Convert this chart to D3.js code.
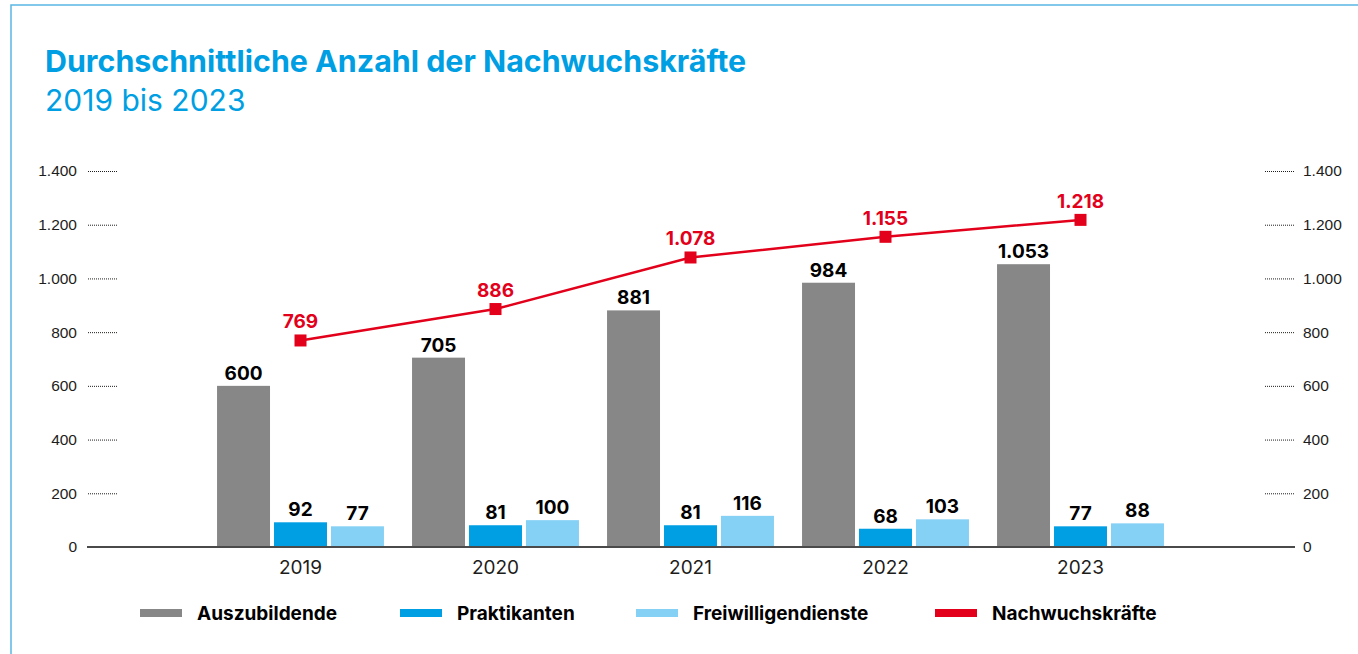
<!DOCTYPE html>
<html>
<head>
<meta charset="utf-8">
<script src="https://cdn.jsdelivr.net/npm/d3@7"></script>
<style>
  body { margin: 0; background: #fff; }
  svg { font-family: "Inter", "Liberation Sans", sans-serif; }
  .axis text { font-size: 15.5px; fill: #1d1d1b; }
  .axis line { stroke: #1d1d1b; stroke-dasharray: 1 1; }
  .axis .domain { display: none; }
</style>
</head>
<body>
<svg id="chart"></svg>
<script>
// Data
var years = ["2019", "2020", "2021", "2022", "2023"];
var auszubildende = [600, 705, 881, 984, 1053];
var praktikanten = [92, 81, 81, 68, 77];
var freiwillige = [77, 100, 116, 103, 88];
var nachwuchs = [769, 886, 1078, 1155, 1218];
var yTicks = [0, 200, 400, 600, 800, 1000, 1200, 1400];
var seriesNames = ["Auszubildende", "Praktikanten", "Freiwilligendienste", "Nachwuchskräfte"];
var seriesColors = ["#878787", "#009fe3", "#85d0f5", "#e2001a"];

var svgWidth = 1358;
var svgHeight = 654;

var de = d3.formatLocale({decimal: ",", thousands: ".", grouping: [3], currency: ["", " €"]});
var fmt = de.format(",d");

var svg = d3.select('#chart')
    .attr("width", svgWidth)
    .attr("height", svgHeight);

// light blue frame (runs off the right/bottom edge)
svg.append("rect")
    .attr("x", 11)
    .attr("y", 5)
    .attr("width", 1400)
    .attr("height", 700)
    .attr("fill", "none")
    .attr("stroke", "#5ab6e4")
    .attr("stroke-width", 1.5);

// Title
svg.append("text")
    .attr("x", 45)
    .attr("y", 72)
    .attr("fill", "#009fe3")
    .style("font-size", "30.4px")
    .style("font-weight", "bold")
    .text("Durchschnittliche Anzahl der Nachwuchskräfte");

svg.append("text")
    .attr("x", 45)
    .attr("y", 111)
    .attr("fill", "#009fe3")
    .style("font-size", "30px")
    .text("2019 bis 2023");

// Scales
var yScale = d3.scaleLinear()
    .domain([0, 1400])
    .range([547, 171]);

var xScale = d3.scaleBand()
    .domain(years)
    .range([203, 1178])
    .paddingInner(0.144)
    .paddingOuter(0.072);

var barKeys = [0, 1, 2];
var barValues = [auszubildende, praktikanten, freiwillige];
var xSub = d3.scaleBand()
    .domain(barKeys)
    .range([0, xScale.bandwidth()])
    .paddingInner(0.07);

// Axes with dotted ticks on both sides
svg.append('g')
    .attr('class', 'axis')
    .attr('transform', 'translate(117, 0)')
    .call(d3.axisLeft(yScale).tickValues(yTicks).tickSize(30).tickPadding(10).tickFormat(fmt))
    .selectAll('.tick')
    .filter(d => d === 0)
    .select('line').remove();

svg.append('g')
    .attr('class', 'axis')
    .attr('transform', 'translate(1265, 0)')
    .call(d3.axisRight(yScale).tickValues(yTicks).tickSize(30).tickPadding(8).tickFormat(fmt))
    .selectAll('.tick')
    .filter(d => d === 0)
    .select('line').remove();

// Bars
var groups = svg.selectAll('.year-group')
    .data(years)
    .enter()
    .append('g')
    .attr('class', 'year-group')
    .attr('transform', d => `translate(${xScale(d)}, 0)`);

groups.each(function(year, yi) {
    var g = d3.select(this);
    barKeys.forEach(function(k) {
        var v = barValues[k][yi];
        g.append('rect')
            .attr('x', xSub(k))
            .attr('y', yScale(v))
            .attr('width', xSub.bandwidth())
            .attr('height', yScale(0) - yScale(v))
            .attr('fill', seriesColors[k]);
        g.append('text')
            .attr('x', xSub(k) + xSub.bandwidth() / 2)
            .attr('y', yScale(v) - 6)
            .attr('text-anchor', 'middle')
            .style('font-size', '19px')
            .style('font-weight', 'bold')
            .attr('fill', '#000')
            .text(fmt(v));
    });
});

// baseline
svg.append('line')
    .attr('x1', 87)
    .attr('x2', 1295)
    .attr('y1', yScale(0))
    .attr('y2', yScale(0))
    .attr('stroke', '#4a4a4a')
    .attr('stroke-width', 2);

// year labels
svg.selectAll('.year-label')
    .data(years)
    .enter()
    .append('text')
    .attr('class', 'year-label')
    .attr('x', d => xScale(d) + xScale.bandwidth() / 2)
    .attr('y', 574)
    .attr('text-anchor', 'middle')
    .style('font-size', '19px')
    .attr('fill', '#1d1d1b')
    .text(d => d);

// Line for Nachwuchskräfte
var lineData = years.map((y, i) => ({year: y, value: nachwuchs[i]}));
var valueline = d3.line()
    .x(d => xScale(d.year) + xScale.bandwidth() / 2)
    .y(d => yScale(d.value));

svg.append('path')
    .datum(lineData)
    .attr('d', valueline)
    .attr('fill', 'none')
    .attr('stroke', seriesColors[3])
    .attr('stroke-width', 2.5);

svg.selectAll('.point')
    .data(lineData)
    .enter()
    .append('rect')
    .attr('class', 'point')
    .attr('x', d => xScale(d.year) + xScale.bandwidth() / 2 - 6)
    .attr('y', d => yScale(d.value) - 6)
    .attr('width', 12)
    .attr('height', 12)
    .attr('fill', seriesColors[3]);

svg.selectAll('.point-label')
    .data(lineData)
    .enter()
    .append('text')
    .attr('class', 'point-label')
    .attr('x', d => xScale(d.year) + xScale.bandwidth() / 2)
    .attr('y', d => yScale(d.value) - 12)
    .attr('text-anchor', 'middle')
    .style('font-size', '19px')
    .style('font-weight', 'bold')
    .attr('fill', seriesColors[3])
    .text(d => fmt(d.value));

// Legend
var legendX = [140, 400, 636, 935];
var legend = svg.selectAll('.legend-item')
    .data(seriesNames)
    .enter()
    .append('g')
    .attr('class', 'legend-item')
    .attr('transform', (d, i) => `translate(${legendX[i]}, 613)`);

legend.append('rect')
    .attr('x', 0)
    .attr('y', -4)
    .attr('width', 42)
    .attr('height', 8)
    .attr('fill', (d, i) => seriesColors[i]);

legend.append('text')
    .attr('x', 57)
    .attr('y', 7)
    .style('font-size', '19px')
    .style('font-weight', 'bold')
    .attr('fill', '#000')
    .text(d => d);
</script>
</body>
</html>
